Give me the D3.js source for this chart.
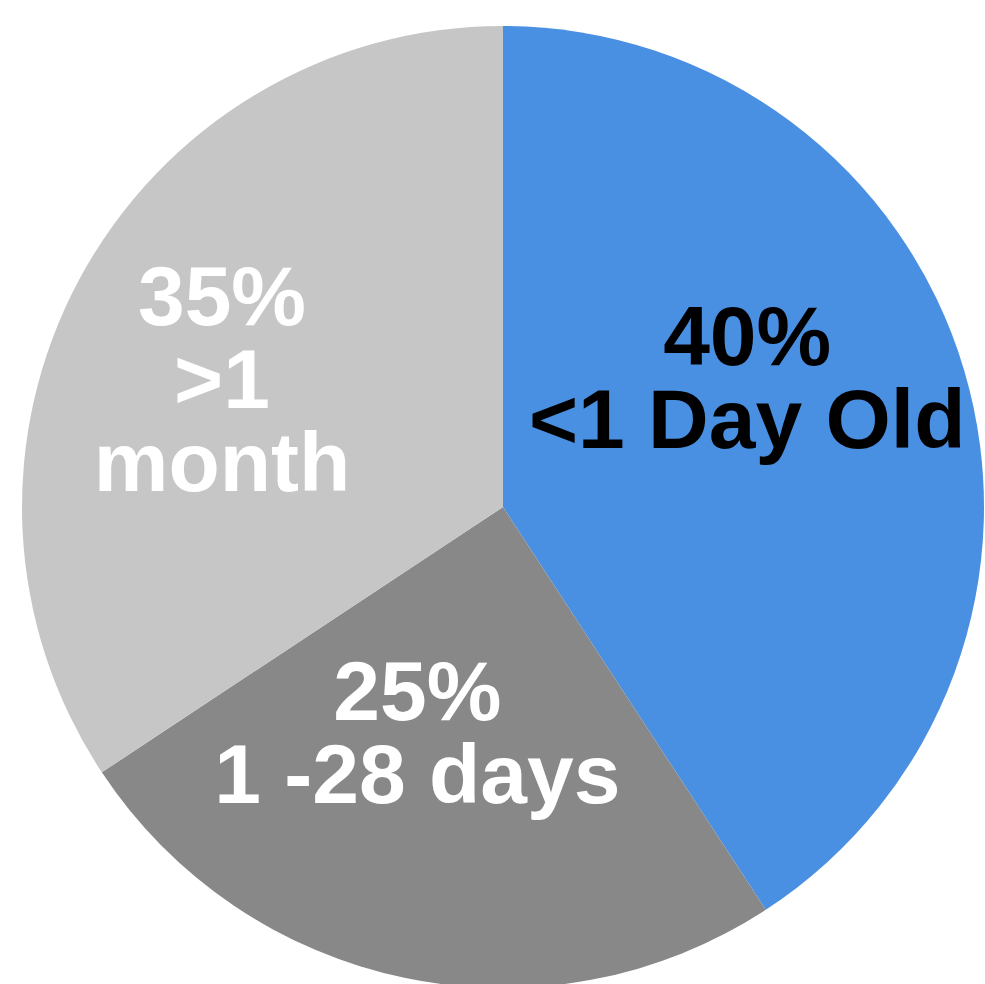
<!DOCTYPE html>
<html>
<head>
<meta charset="utf-8">
<script src="https://cdn.jsdelivr.net/npm/d3@7"></script>
<style>
  html, body { margin: 0; padding: 0; background: #ffffff; overflow: hidden; }
  svg { display: block; }
</style>
</head>
<body>
<script>
// Data
const categories = ["<1 Day Old", "1 -28 days", ">1 month"];
const percentLabels = ["40%", "25%", "35%"];
const values = [40.8, 24.9, 34.3];
const colors = ["#4a90e2", "#888888", "#c6c6c6"];
const textColors = ["#000000", "#ffffff", "#ffffff"];
const labelLines = [["40%", "<1 Day Old"], ["25%", "1 -28 days"], ["35%", ">1", "month"]];

// Layout
const W = 985, H = 984;
const cx = 503, cy = 507, R = 481;
const labelRadius = 260;
const labelOffsets = [[-5, -68], [-33, -42], [-52, -59]];
const fontSize = 84, lineHeight = 83;

const svg = d3.select("body").append("svg").attr("width", W).attr("height", H);
const g = svg.append("g").attr("transform", `translate(${cx},${cy})`);

const pie = d3.pie().sort(null).value(d => d.value).startAngle(0).endAngle(2 * Math.PI);
const data = categories.map((c, i) => ({ category: c, value: values[i], i }));
const arcs = pie(data);

const arc = d3.arc().innerRadius(0).outerRadius(R);
const labelArc = d3.arc().innerRadius(labelRadius).outerRadius(labelRadius);

g.selectAll("path.slice").data(arcs).enter().append("path")
  .attr("class", "slice")
  .attr("d", arc)
  .attr("fill", d => colors[d.data.i]);

const labels = g.selectAll("text.lbl").data(arcs).enter().append("text")
  .attr("class", "lbl")
  .attr("text-anchor", "middle")
  .attr("font-family", "'Liberation Sans', Arial, Helvetica, sans-serif")
  .attr("font-weight", "bold")
  .attr("font-size", fontSize)
  .attr("fill", d => textColors[d.data.i])
  .attr("transform", d => {
    const [x, y] = labelArc.centroid(d);
    const o = labelOffsets[d.data.i];
    return `translate(${x + o[0]},${y + o[1]})`;
  });

labels.each(function(d) {
  const t = d3.select(this);
  labelLines[d.data.i].forEach((line, k) => {
    t.append("tspan").attr("x", 0).attr("y", k * lineHeight).text(line);
  });
});
</script>
</body>
</html>
